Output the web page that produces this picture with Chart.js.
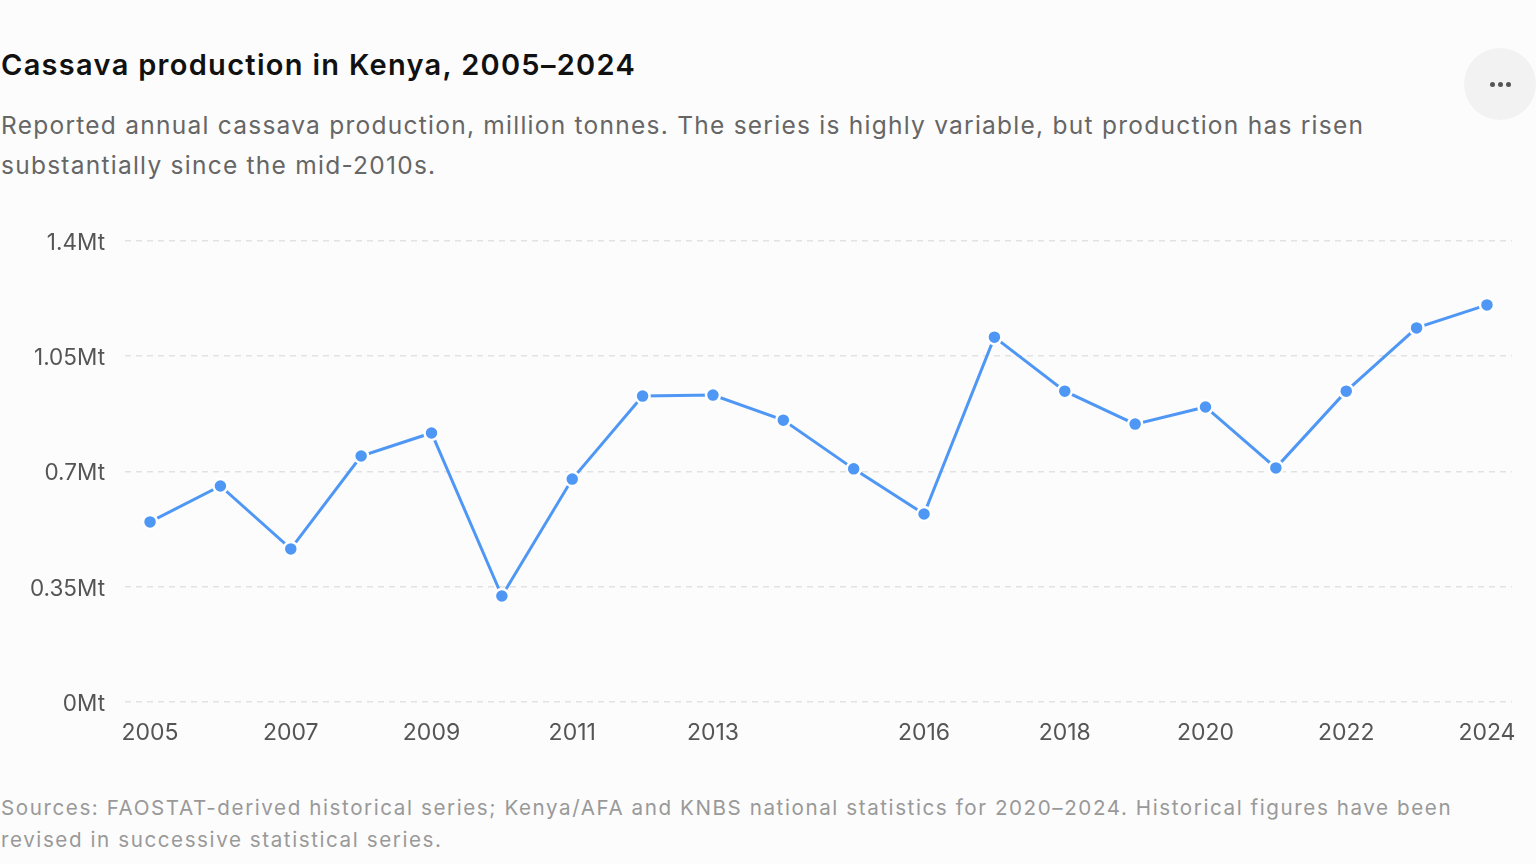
<!DOCTYPE html>
<html>
<head>
<meta charset="utf-8">
<script src="https://cdn.jsdelivr.net/npm/chart.js@4.4.1/dist/chart.umd.min.js"></script>
<style>
  html, body { margin: 0; padding: 0; background: #fcfcfc; }
  body { width: 1536px; height: 864px; position: relative; overflow: hidden; font-family: Inter, "Noto Sans", sans-serif; }
  #title { position: absolute; left: 1px; top: 47px; font-size: 29px; font-weight: 600; color: #111; letter-spacing: 1.3px; }
  #subtitle { position: absolute; left: 1px; top: 105px; width: 1420px; font-size: 24.5px; line-height: 40px; color: #666; letter-spacing: 1.25px; }
  #footer { position: absolute; left: 1px; top: 792px; width: 1500px; font-size: 20.6px; line-height: 32px; color: #999; letter-spacing: 1.58px; }
  #menu { position: absolute; left: 1464px; top: 48px; width: 72px; height: 72px; border-radius: 50%; background: #f2f2f2; }
  #menu span { position: absolute; top: 34px; width: 5px; height: 5px; border-radius: 50%; background: #555; }
  #wrap { position: absolute; left: 0; top: 200px; width: 1536px; height: 560px; }
</style>
</head>
<body>
<div id="title">Cassava production in Kenya, 2005–2024</div>
<div id="subtitle">Reported annual cassava production, million tonnes. The series is highly variable, but production has risen substantially since the mid-2010s.</div>
<div id="menu"><span style="left:26px"></span><span style="left:34px"></span><span style="left:42px"></span></div>
<div id="wrap"><canvas id="grafico"></canvas></div>
<div id="footer">Sources: FAOSTAT-derived historical series; Kenya/AFA and KNBS national statistics for 2020–2024. Historical figures have been revised in successive statistical series.</div>

<script>
// anos e producao (milhoes de toneladas)
var anos = [2005, 2006, 2007, 2008, 2009, 2010, 2011, 2012, 2013, 2014,
            2015, 2016, 2017, 2018, 2019, 2020, 2021, 2022, 2023, 2024];
var producao = [0.547, 0.656, 0.465, 0.747, 0.817, 0.322, 0.677, 0.929, 0.932, 0.856,
                0.708, 0.571, 1.108, 0.944, 0.844, 0.896, 0.711, 0.944, 1.136, 1.206];
var anosRotulo = [2005, 2007, 2009, 2011, 2013, 2016, 2018, 2020, 2022, 2024];
var ticksY = [0, 0.35, 0.7, 1.05, 1.4];

var pontos = [];
for (var i = 0; i < anos.length; i++) {
  pontos.push({ x: anos[i], y: producao[i] });
}

var corLinha = "#4f97f5";

const config = {
  type: "line",
  data: {
    datasets: [
      {
        label: "Produção",
        data: pontos,
        borderColor: corLinha,
        backgroundColor: corLinha,
        borderWidth: 3,
        pointRadius: 7,
        pointBorderWidth: 2.5,
        pointBorderColor: "#ffffff",
        pointBackgroundColor: corLinha,
        tension: 0,
        fill: false,
      },
    ],
  },
  options: {
    responsive: true,
    maintainAspectRatio: false,
    animation: false,
    layout: { padding: { top: 41, right: 24, left: 0, bottom: 0 } },
    plugins: {
      legend: { display: false },
      tooltip: { enabled: false },
    },
    scales: {
      x: {
        type: "linear",
        min: 2004.644,
        max: 2024.356,
        afterBuildTicks: function (scale) {
          scale.ticks = anosRotulo.map(function (a) { return { value: a }; });
        },
        afterFit: function (scale) { scale.height = 58; },
        grid: { display: false, drawTicks: false },
        border: { display: false },
        ticks: {
          padding: 17,
          maxRotation: 0,
          autoSkip: false,
          color: "#555",
          font: { family: "Inter", size: 23 },
          callback: function (v) { return String(v); },
        },
      },
      y: {
        min: 0,
        max: 1.4,
        afterBuildTicks: function (scale) {
          scale.ticks = ticksY.map(function (v) { return { value: v }; });
        },
        afterFit: function (scale) { scale.width = 125; },
        grid: { color: "#e2e2e2", lineWidth: 1.5, drawTicks: false },
        border: { display: false, dash: [6, 5] },
        ticks: {
          padding: 20,
          labelOffset: 2,
          color: "#555",
          font: { family: "Inter", size: 22.5 },
          callback: function (v) { return v + "Mt"; },
        },
      },
    },
  },
};

var meuGrafico = new Chart(document.getElementById("grafico"), config);
</script>
</body>
</html>
